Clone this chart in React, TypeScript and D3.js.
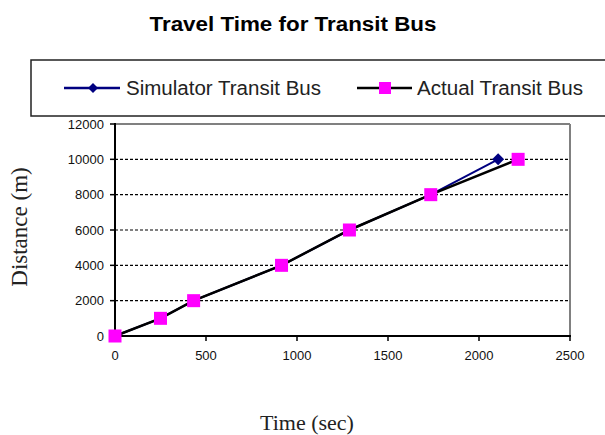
import { useMemo } from "react";
import * as d3 from "d3";

const width = 605;
const height = 435;

// readings
const simTime = [0, 250, 432, 915, 1288, 1735, 2105];
const simDistance = [0, 1000, 2000, 4000, 6000, 8000, 10000];
const actualTime = [0, 250, 432, 915, 1288, 1735, 2215];
const actualDistance = [0, 1000, 2000, 4000, 6000, 8000, 10000];
const xTicks = [0, 500, 1000, 1500, 2000, 2500];
const yTicks = [0, 2000, 4000, 6000, 8000, 10000, 12000];
const seriesNames = ["Simulator Transit Bus", "Actual Transit Bus"];

export default function App() {
  const x = d3.scaleLinear().domain([0, 2500]).range([115, 570]);
  const y = d3.scaleLinear().domain([0, 12000]).range([336, 124]);

  const sim = useMemo(() => simTime.map((t, i) => [t, simDistance[i]] as [number, number]), []);
  const actual = useMemo(() => actualTime.map((t, i) => [t, actualDistance[i]] as [number, number]), []);

  const line = d3
    .line<[number, number]>()
    .x((d) => x(d[0]))
    .y((d) => y(d[1]));

  const diamond = (cx: number, cy: number, r: number) =>
    `M${cx},${cy - r}L${cx + r},${cy}L${cx},${cy + r}L${cx - r},${cy}Z`;

  //
  // plot frame
  //
  const [x0, x1] = x.range();
  const [yb, yt] = y.range();

  return (
    <div style={{ position: "absolute", left: 0, top: 0 }}>
      <svg width={width} height={height} style={{ display: "block", background: "#fff" }}>
        <text
          x={293}
          y={31}
          textAnchor="middle"
          fontFamily="'Liberation Sans', Arial, sans-serif"
          fontWeight="bold"
          fontSize={20}
          textLength={287}
          lengthAdjust="spacingAndGlyphs"
          fill="#000"
        >
          Travel Time for Transit Bus
        </text>

        {/* legend */}
        <rect x={31} y={60} width={590} height={56} fill="#fff" stroke="#222" strokeWidth={1.5} />
        <line x1={64} x2={120} y1={88} y2={88} stroke="#000080" strokeWidth={2.5} />
        <path d={diamond(93, 88, 5)} fill="#000080" />
        <text x={126} y={95} fontFamily="'Liberation Sans', Arial, sans-serif" fontSize={20} textLength={195} lengthAdjust="spacingAndGlyphs" fill="#222">
          {seriesNames[0]}
        </text>
        <line x1={357} x2={412} y1={88} y2={88} stroke="#000" strokeWidth={2.5} />
        <rect x={379} y={82} width={12} height={12} fill="#ff00ff" />
        <text x={417} y={95} fontFamily="'Liberation Sans', Arial, sans-serif" fontSize={20} textLength={166} lengthAdjust="spacingAndGlyphs" fill="#222">
          {seriesNames[1]}
        </text>

        {/* grid */}
        {yTicks
          .filter((t) => t > 0 && t < 12000)
          .map((t) => (
            <line key={t} x1={x0} x2={x1} y1={y(t)} y2={y(t)} stroke="#000" strokeWidth={1.2} strokeDasharray="3,2" />
          ))}

        {/* frame: gray top/right, black axes */}
        <line x1={x0} x2={x1} y1={yt} y2={yt} stroke="#808080" strokeWidth={2} />
        <line x1={x1} x2={x1} y1={yt} y2={yb} stroke="#808080" strokeWidth={2} />
        <line x1={x0} x2={x1 + 1} y1={yb} y2={yb} stroke="#000" strokeWidth={2} />
        <line x1={x0} x2={x0} y1={yt - 1} y2={yb} stroke="#000" strokeWidth={2} />

        {yTicks.map((t) => (
          <g key={t}>
            <line x1={x0 - 5} x2={x0} y1={y(t)} y2={y(t)} stroke="#000" strokeWidth={1.5} />
            <text x={104} y={y(t) + 4.5} textAnchor="end" fontFamily="'Liberation Sans', Arial, sans-serif" fontSize={13} fill="#111">
              {t}
            </text>
          </g>
        ))}
        {xTicks.map((t) => (
          <g key={t}>
            <line x1={x(t)} x2={x(t)} y1={yb} y2={yb + 5} stroke="#000" strokeWidth={1.5} />
            <text x={x(t)} y={360} textAnchor="middle" fontFamily="'Liberation Sans', Arial, sans-serif" fontSize={13} fill="#111">
              {t}
            </text>
          </g>
        ))}

        {/* series */}
        <path d={line(sim) ?? ""} fill="none" stroke="#000080" strokeWidth={2} />
        {sim.map((d, i) => (
          <path key={i} d={diamond(x(d[0]), y(d[1]), 6)} fill="#000080" />
        ))}
        <path d={line(actual) ?? ""} fill="none" stroke="#000" strokeWidth={2.5} />
        {actual.map((d, i) => (
          <rect key={i} x={x(d[0]) - 6.5} y={y(d[1]) - 6.5} width={13} height={13} fill="#ff00ff" />
        ))}

        {/* axis titles */}
        <text
          transform="translate(27,227) rotate(-90)"
          textAnchor="middle"
          fontFamily="'Liberation Serif', 'Times New Roman', serif"
          fontSize={23}
          fill="#222"
        >
          Distance (m)
        </text>
        <text x={307} y={430} textAnchor="middle" fontFamily="'Liberation Serif', 'Times New Roman', serif" fontSize={22} fill="#222">
          Time (sec)
        </text>
      </svg>
    </div>
  );
}
